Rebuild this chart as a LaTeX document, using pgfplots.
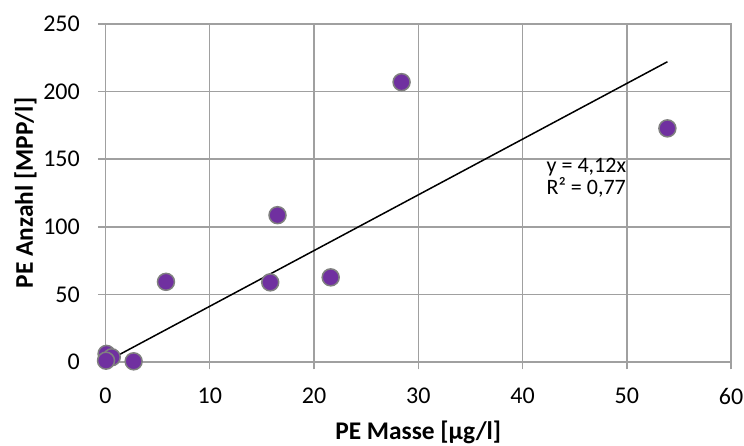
\documentclass[border=0pt]{standalone}
\usepackage{fontspec}
\setmainfont{Carlito}
\usepackage{pgfplots}
\pgfplotsset{compat=1.18}
\definecolor{gridgray}{RGB}{160,160,160}
\definecolor{ptpurple}{RGB}{112,48,160}
\definecolor{edgegray}{RGB}{128,128,128}
\begin{document}
\begin{tikzpicture}
\useasboundingbox (-105.5pt,-84pt) rectangle (638.5pt,362pt);
\begin{axis}[
  at={(0pt,0pt)}, anchor=south west,
  scale only axis, width=625.5pt, height=338pt,
  xmin=0, xmax=60, ymin=0, ymax=250,
  xtick={0,10,...,60}, ytick={0,50,...,250},
  grid=major,
  major grid style={line width=1.5pt, color=gridgray},
  axis line style={line width=1.5pt, color=gridgray},
  tick style={line width=1.5pt, color=gridgray},
  tick align=outside, major tick length=7.5pt,
  xtick pos=bottom, ytick pos=left,
  /pgf/number format/assume math mode=true,
  ticklabel style={font=\fontsize{24}{29}\selectfont, text=black, inner sep=0pt},
  yticklabel style={anchor=east, xshift=-18pt},
  xticklabel style={anchor=north, yshift=-18.5pt},
  xlabel={\textbf{PE Masse [µg/l]}},
  ylabel={\textbf{PE Anzahl [MPP/l]}},
  xlabel style={font=\fontsize{25.4}{30}\selectfont, anchor=base, at={([yshift=-77.5pt]axis description cs:0.5,0)}, inner sep=0pt},
  ylabel style={font=\fontsize{25.4}{30}\selectfont, anchor=base, rotate=0, at={([xshift=-72.5pt]axis description cs:0,0.5)}, inner sep=0pt},
  clip=false,
]
\addplot[black, line width=1.5pt] coordinates {(0,0) (53.9,222.07)};
\addplot[only marks, mark=*, mark size=8.5pt, mark options={fill=ptpurple, draw=edgegray, line width=1.5pt}] coordinates {
  (0.1,6) (0.6,3.5) (0.05,1) (2.7,0.5)
  (5.8,59.3) (15.8,58.9) (16.5,108.6) (21.6,62.6)
  (28.4,207) (53.9,172.8)
};
\node[anchor=base west, inner sep=0pt, align=left, font=\fontsize{22}{16.6}\selectfont] at (axis cs:42.3,124.0) {y = 4,12x\\R² = 0,77};
\end{axis}
\end{tikzpicture}
\end{document}
